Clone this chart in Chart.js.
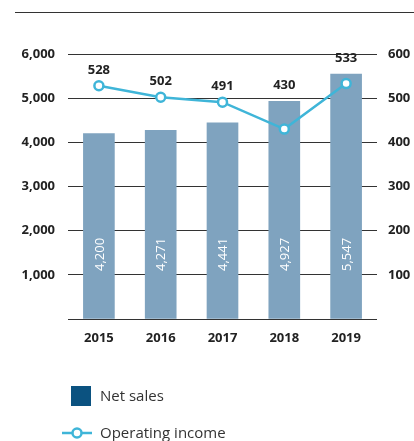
<!DOCTYPE html>
<html>
<head>
<meta charset="utf-8">
<script src="https://cdn.jsdelivr.net/npm/chart.js@4/dist/chart.umd.min.js"></script>
<style>
  html, body { margin: 0; padding: 0; background: #fff; }
  #wrap { position: relative; width: 414px; height: 441px; overflow: hidden; font-family: "Open Sans", sans-serif; }
  #rule { position: absolute; left: 15px; right: 0; top: 12px; height: 0; border-top: 1.5px solid #333; }
  #chart { position: absolute; left: 0; top: 0; }
  .leg { position: absolute; left: 0; display: flex; align-items: center; font-size: 15px; color: #333; white-space: nowrap; }
  .sw { position: absolute; }
  .lt { position: absolute; left: 100px; }
</style>
</head>
<body>
<div id="wrap">
  <div id="rule"></div>
  <canvas id="chart" width="414" height="441"></canvas>
  <div class="leg" style="top:386px;height:20px;">
    <span class="sw" style="left:71px;top:0;width:20px;height:20px;background:#0b5280;"></span>
    <span class="lt" style="top:-1px;line-height:20px;">Net sales</span>
  </div>
  <div class="leg" style="top:423px;height:20px;">
    <svg class="sw" style="left:61px;top:0;" width="32" height="20">
      <line x1="1" y1="10" x2="31" y2="10" stroke="#3fb5d8" stroke-width="2.5"/>
      <circle cx="16" cy="10" r="4.5" fill="#fff" stroke="#3fb5d8" stroke-width="2.5"/>
    </svg>
    <span class="lt" style="top:-1px;line-height:20px;">Operating income</span>
  </div>
</div>
<script>
// Years shown on the category axis
const years = ['2015', '2016', '2017', '2018', '2019'];
// Net sales (left axis)
const netSales = [4200, 4271, 4441, 4927, 5547];
// Operating income (right axis)
const operatingIncome = [528, 502, 491, 430, 533];
// Axis ranges
const salesTicks = [0, 1000, 2000, 3000, 4000, 5000, 6000];
const incomeTicks = [0, 100, 200, 300, 400, 500, 600];

const BAR = '#7fa3bf';
const LINE = '#3fb5d8';
const INK = '#222';
const FONT = '"Open Sans", sans-serif';
const fmt = v => v.toLocaleString('en-US');

// Writes the sales figure vertically inside each bar and the income figure above each point
const valueLabels = {
  id: 'valueLabels',
  afterDatasetsDraw(chart) {
    const ctx = chart.ctx;
    const y = chart.scales.y;
    const barMeta = chart.getDatasetMeta(0);
    const lineMeta = chart.getDatasetMeta(1);
    const base = y.getPixelForValue(0);
    ctx.save();
    // sales inside bars
    ctx.font = '400 13px ' + FONT;
    ctx.fillStyle = '#fff';
    ctx.textAlign = 'left';
    ctx.textBaseline = 'middle';
    barMeta.data.forEach((bar, i) => {
      ctx.save();
      ctx.translate(bar.x + 1, base - 48);
      ctx.rotate(-Math.PI / 2);
      ctx.fillText(fmt(netSales[i]), 0, 0);
      ctx.restore();
    });
    // income above points (kept clear of the bar top)
    ctx.font = '700 13px ' + FONT;
    ctx.fillStyle = INK;
    ctx.textAlign = 'center';
    ctx.textBaseline = 'middle';
    lineMeta.data.forEach((pt, i) => {
      const top = Math.min(pt.y, barMeta.data[i].y);
      ctx.fillText(fmt(operatingIncome[i]), pt.x, top - 16);
    });
    ctx.restore();
  }
};

new Chart(document.getElementById('chart'), {
  data: {
    labels: years,
    datasets: [
      {
        type: 'bar',
        label: 'Net sales',
        data: netSales,
        yAxisID: 'y',
        backgroundColor: BAR,
        barThickness: 31,
        order: 2
      },
      {
        type: 'line',
        label: 'Operating income',
        data: operatingIncome,
        yAxisID: 'y1',
        borderColor: LINE,
        borderWidth: 2.5,
        pointRadius: 4.5,
        pointBorderWidth: 2.5,
        pointBackgroundColor: '#fff',
        pointBorderColor: LINE,
        tension: 0,
        order: 1
      }
    ]
  },
  options: {
    responsive: false,
    animation: false,
    devicePixelRatio: 1,
    layout: { padding: { top: 54, left: 0, right: 0, bottom: 92 } },
    plugins: { legend: { display: false }, tooltip: { enabled: false } },
    scales: {
      x: {
        grid: { display: false },
        border: { display: false },
        ticks: { color: INK, font: { family: FONT, size: 13, weight: '700' }, padding: 3 },
        afterFit(s) { s.height = 30; }
      },
      y: {
        position: 'left',
        min: salesTicks[0],
        max: salesTicks[salesTicks.length - 1],
        afterBuildTicks(s) { s.ticks = salesTicks.map(v => ({ value: v })); },
        grid: { color: '#333', lineWidth: 1, drawTicks: false },
        border: { display: false },
        ticks: {
          color: INK,
          font: { family: FONT, size: 13, weight: '700' },
          padding: 13,
          callback: v => (v === 0 ? '' : fmt(v))
        },
        afterFit(s) { s.width = 68; }
      },
      y1: {
        position: 'right',
        min: incomeTicks[0],
        max: incomeTicks[incomeTicks.length - 1],
        afterBuildTicks(s) { s.ticks = incomeTicks.map(v => ({ value: v })); },
        grid: { drawOnChartArea: false, drawTicks: false },
        border: { display: false },
        ticks: {
          color: INK,
          font: { family: FONT, size: 13, weight: '700' },
          padding: 11,
          callback: v => (v === 0 ? '' : fmt(v))
        },
        afterFit(s) { s.width = 37; }
      }
    }
  },
  plugins: [valueLabels]
});
</script>
</body>
</html>
